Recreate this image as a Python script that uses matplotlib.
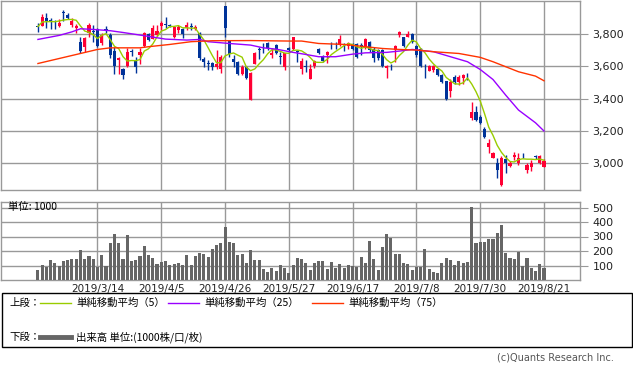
import numpy as np
import pandas as pd
import matplotlib
matplotlib.use("Agg")
import matplotlib.pyplot as plt
from matplotlib.lines import Line2D
from matplotlib.patches import Rectangle

plt.rcParams['font.family'] = ['DejaVu Sans', 'Noto Sans CJK JP']

# ---- data (2019/2/22 .. 2019/8/21) ----
opens = [3851, 3851, 3897, 3884, 3878, 3849, 3934, 3917, 3856, 3835,
         3752, 3721, 3804, 3816, 3829, 3742, 3831, 3793, 3697, 3639,
         3583, 3604, 3692, 3635, 3670, 3725, 3800, 3769, 3793, 3851,
         3862, 3856, 3779, 3825, 3831, 3835, 3847, 3829, 3804, 3643,
         3620, 3622, 3598, 3581, 3973, 3762, 3643, 3628, 3550, 3598,
         3395, 3618, 3707, 3734, 3746, 3670, 3732, 3661, 3598, 3711,
         3707, 3692, 3581, 3600, 3521, 3602, 3705, 3663, 3670, 3734,
         3734, 3732, 3734, 3725, 3732, 3738, 3732, 3711, 3752, 3705,
         3701, 3701, 3593, 3604, 3701, 3793, 3779, 3783, 3798, 3725,
         3707, 3604, 3573, 3577, 3581, 3546, 3509, 3449, 3536, 3505,
         3531, 3554, 3278, 3319, 3288, 3210, 3103, 3036, 3004, 2865,
         3024, 2983, 3041, 3000, 3059, 2958, 2979, 3043, 3000, 2979]
highs = [3866, 3924, 3932, 3897, 3887, 3891, 3948, 3932, 3897, 3862,
         3783, 3779, 3870, 3856, 3835, 3804, 3849, 3804, 3721, 3659,
         3591, 3715, 3705, 3659, 3711, 3810, 3804, 3856, 3856, 3882,
         3907, 3860, 3845, 3856, 3835, 3876, 3870, 3856, 3810, 3659,
         3639, 3628, 3701, 3670, 3975, 3764, 3670, 3635, 3608, 3602,
         3567, 3690, 3721, 3746, 3752, 3711, 3738, 3690, 3686, 3721,
         3783, 3701, 3649, 3639, 3614, 3639, 3717, 3670, 3697, 3752,
         3752, 3793, 3746, 3752, 3746, 3742, 3742, 3773, 3756, 3721,
         3707, 3705, 3608, 3618, 3732, 3820, 3783, 3818, 3804, 3732,
         3711, 3618, 3608, 3608, 3587, 3552, 3511, 3525, 3546, 3546,
         3556, 3560, 3381, 3354, 3298, 3222, 3148, 3072, 3030, 3045,
         3051, 3016, 3072, 3065, 3065, 3000, 3020, 3051, 3051, 3024]
lows = [3814, 3849, 3835, 3829, 3829, 3845, 3882, 3891, 3845, 3804,
        3680, 3690, 3783, 3752, 3721, 3732, 3804, 3655, 3556, 3556,
        3521, 3598, 3665, 3560, 3618, 3721, 3758, 3767, 3789, 3825,
        3835, 3845, 3773, 3804, 3773, 3825, 3825, 3825, 3639, 3598,
        3577, 3577, 3587, 3560, 3783, 3659, 3598, 3546, 3546, 3525,
        3391, 3614, 3643, 3686, 3701, 3649, 3676, 3618, 3577, 3690,
        3701, 3628, 3556, 3567, 3521, 3593, 3676, 3626, 3622, 3705,
        3705, 3727, 3697, 3705, 3701, 3655, 3670, 3705, 3690, 3628,
        3639, 3598, 3531, 3577, 3628, 3783, 3721, 3779, 3742, 3659,
        3598, 3531, 3571, 3567, 3540, 3500, 3391, 3408, 3494, 3488,
        3494, 3515, 3268, 3263, 3243, 3158, 3065, 3030, 2911, 2861,
        2942, 2979, 3020, 2989, 3036, 2938, 2954, 3024, 2995, 2975]
closes = [3847, 3903, 3880, 3880, 3874, 3870, 3930, 3897, 3882, 3849,
          3694, 3773, 3856, 3812, 3727, 3793, 3827, 3670, 3604, 3655,
          3546, 3690, 3688, 3598, 3690, 3808, 3762, 3835, 3820, 3866,
          3858, 3853, 3841, 3845, 3798, 3856, 3843, 3845, 3653, 3626,
          3616, 3598, 3618, 3659, 3835, 3676, 3628, 3550, 3598, 3531,
          3560, 3684, 3703, 3730, 3711, 3686, 3680, 3657, 3680, 3701,
          3779, 3688, 3633, 3596, 3583, 3633, 3680, 3633, 3690, 3730,
          3730, 3767, 3730, 3746, 3705, 3659, 3721, 3769, 3701, 3653,
          3649, 3602, 3602, 3600, 3725, 3810, 3725, 3800, 3752, 3670,
          3602, 3600, 3604, 3602, 3546, 3505, 3401, 3505, 3505, 3536,
          3546, 3550, 3319, 3268, 3247, 3160, 3127, 3065, 2958, 3030,
          3000, 3004, 3051, 3030, 3055, 2989, 3004, 3039, 3047, 3016]
volumes = [69, 103, 92, 138, 119, 96, 131, 138, 145, 145,
           207, 145, 168, 145, 92, 172, 96, 253, 317, 253,
           145, 310, 133, 138, 166, 234, 172, 149, 110, 122,
           131, 103, 113, 119, 103, 172, 103, 166, 184, 179,
           161, 213, 241, 257, 367, 262, 255, 172, 179, 119,
           207, 138, 138, 76, 53, 85, 62, 103, 85, 46,
           103, 154, 145, 119, 69, 119, 131, 131, 76, 124,
           83, 110, 83, 103, 96, 92, 161, 117, 269, 145,
           69, 228, 317, 292, 179, 179, 117, 108, 69, 92,
           92, 213, 76, 57, 51, 117, 154, 138, 103, 131,
           117, 126, 501, 255, 262, 262, 283, 283, 324, 379,
           186, 154, 145, 195, 94, 154, 85, 62, 110, 83]

# moving averages 25 / 75 read at sample days
ma25_day = [0, 5, 8, 10, 13, 17, 20, 25, 30, 35, 38, 40, 45, 50, 53, 56, 60, 63, 66,
            70, 74, 77, 82, 85, 88, 93, 97, 101, 104, 107, 110, 113, 117, 119]
ma25_val = [3767, 3792, 3814, 3833, 3829, 3821, 3810, 3790, 3769, 3763, 3767, 3753,
            3742, 3732, 3715, 3707, 3687, 3674, 3660, 3660, 3676, 3684, 3687, 3695,
            3705, 3691, 3660, 3629, 3581, 3519, 3422, 3330, 3251, 3200]
ma75_day = [0, 10, 14, 17, 24, 26, 31, 36, 41, 50, 59, 62, 66, 72, 77, 81, 85, 89,
            93, 99, 104, 107, 110, 113, 117, 119]
ma75_val = [3618, 3680, 3705, 3715, 3715, 3722, 3736, 3753, 3759, 3760, 3757, 3757,
            3742, 3736, 3722, 3711, 3705, 3701, 3691, 3680, 3656, 3629, 3598, 3567,
            3540, 3511]

tick_days = [14, 29, 44, 59, 74, 89, 104, 119]
tick_labels = ['2019/3/14', '2019/4/5', '2019/4/26', '2019/5/27',
               '2019/6/17', '2019/7/8', '2019/7/30', '2019/8/21']

ma5 = pd.Series(closes).rolling(5, min_periods=1).mean()

UP = '#ff0033'
DOWN = '#003399'
GRID = '#999999'
C5 = '#99cc00'
C25 = '#9900ff'
C75 = '#ff3300'

fig = plt.figure(figsize=(6.33, 3.69), dpi=100)
ax = fig.add_axes([0.0015, 1 - 190 / 369, 579 / 633, 189.5 / 369])
axv = fig.add_axes([0.0015, 1 - 280 / 369, 579 / 633, 78.3 / 369])

xlim = (-8.7, 127.45)

# ---- Chart 1: price candles ----
days = np.arange(len(closes))
for i in days:
    o, h, l, c = opens[i], highs[i], lows[i], closes[i]
    col = UP if c >= o else DOWN
    ax.vlines(i, l, h, color=col, lw=1, zorder=3)
    body = max(abs(c - o), 5)
    ax.bar(i, body, bottom=min(o, c), width=0.72, color=col, lw=0, zorder=4)

ax.plot(days, ma5, color=C5, lw=1, zorder=5)
ax.plot(ma25_day, ma25_val, color=C25, lw=1, zorder=5)
ax.plot(ma75_day, ma75_val, color=C75, lw=1, zorder=5)

ax.set_xlim(xlim)
ax.set_ylim(2835, 4008)
ax.set_yticks([3000, 3200, 3400, 3600, 3800])
ax.set_yticklabels(['3,000', '3,200', '3,400', '3,600', '3,800'])
ax.set_xticks(tick_days)
ax.set_xticklabels([])

# ---- Chart 2: volume ----
axv.bar(days, volumes, width=0.72, color='#666666', lw=0, zorder=3)
axv.set_xlim(xlim)
axv.set_ylim(0, 540)
axv.set_yticks([100, 200, 300, 400, 500])
axv.set_xticks(tick_days)
axv.set_xticklabels(tick_labels, fontsize=7.5, color='#222222')
axv.text(0.012, 0.93, '単位: 1000', transform=axv.transAxes, fontsize=7.5,
         va='center', ha='left', family=['Noto Sans CJK JP', 'DejaVu Sans'], zorder=6)

for a in (ax, axv):
    a.grid(True, color=GRID, lw=1, zorder=0)
    a.set_axisbelow(True)
    a.yaxis.tick_right()
    a.tick_params(axis='y', direction='out', length=6, color=GRID, labelsize=8,
                  labelcolor='#222222', pad=3)
    a.tick_params(axis='x', length=0, pad=3)
    for s in a.spines.values():
        s.set_color(GRID)
        s.set_linewidth(1)

# ---- legend box ----
jp = ['Noto Sans CJK JP', 'DejaVu Sans']
fig.patches.append(Rectangle((1.5 / 633, 1 - 347 / 369), 630 / 633, 54 / 369,
                             transform=fig.transFigure, fill=False, ec='black', lw=1))
row1 = 1 - 303 / 369
row2 = 1 - 337 / 369
fig.text(9 / 633, row1, '上段：', fontsize=7.5, va='center', family=jp)
fig.text(9 / 633, row2, '下段：', fontsize=7.5, va='center', family=jp)
for x0, col, lab in [(40, C5, '単純移動平均（5）'), (168, C25, '単純移動平均（25）'),
                     (312, C75, '単純移動平均（75）')]:
    fig.lines.append(Line2D([x0 / 633, (x0 + 31) / 633], [row1, row1],
                            transform=fig.transFigure, color=col, lw=1))
    fig.text((x0 + 36) / 633, row1, lab, fontsize=7.5, va='center', family=jp)
fig.lines.append(Line2D([40 / 633, 71 / 633], [row2, row2],
                        transform=fig.transFigure, color='#666666', lw=3.5))
fig.text(76 / 633, row2, '出来高 単位:(1000株/口/枚)', fontsize=7.5, va='center', family=jp)

fig.text(614 / 633, 1 - 357 / 369, '(c)Quants Research Inc.', fontsize=7,
         ha='right', va='center', color='#555555')

fig.savefig('out.png', dpi=100)
